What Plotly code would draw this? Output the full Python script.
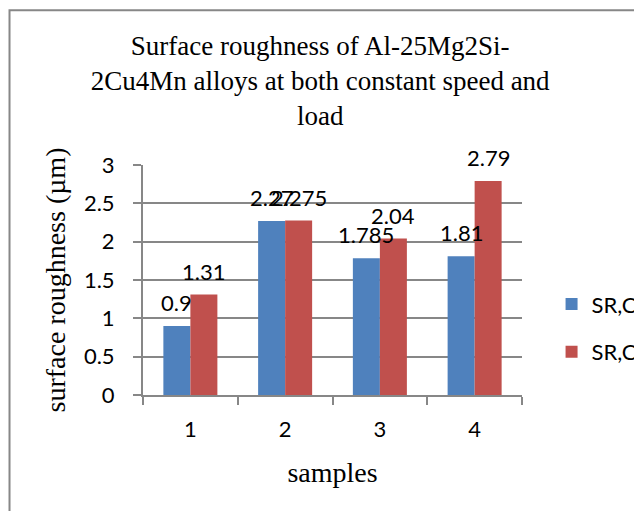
import plotly.graph_objects as go

samples = ["1", "2", "3", "4"]
series_names = ["SR,Constant speed", "SR,Constant load"]
sr_speed = [0.9, 2.27, 1.785, 1.81]
sr_load = [1.31, 2.275, 2.04, 2.79]
colors = ["#4F81BD", "#C0504D"]
y_ticks = [0, 0.5, 1, 1.5, 2, 2.5, 3]
y_tick_text = ["0", "0.5", "1", "1.5", "2", "2.5", "3"]

title_text = "Surface roughness of Al-25Mg2Si-<br>2Cu4Mn alloys at both constant speed and<br>load"
x_title = "samples"
y_title = "surface roughness (µm)"

LABEL_FONT = dict(family="Lato", size=22, color="#000000")
SERIF = "Liberation Serif"
GREY = "#878787"

fig = go.Figure()
for i, (name, vals) in enumerate(zip(series_names, [sr_speed, sr_load])):
    fig.add_trace(go.Bar(
        x=samples, y=vals, name=name,
        marker=dict(color=colors[i], line=dict(width=0)),
        legendgroup=f"g{i}",
    ))

# data labels (x given as category index on the category axis)
for i, vals in enumerate([sr_speed, sr_load]):
    shift = -13.5 if i == 0 else 13.5
    for idx, v in enumerate(vals):
        fig.add_annotation(
            x=idx, y=v, text=f"{v:g}", showarrow=False,
            xshift=shift, yshift=8, yanchor="bottom", xanchor="center",
            font=LABEL_FONT,
        )

fig.update_layout(
    width=634, height=511,
    paper_bgcolor="white", plot_bgcolor="white",
    margin=dict(l=143, r=112, t=165, b=116, autoexpand=False),
    barmode="group", bargap=0.43, bargroupgap=0,
    title=dict(text=title_text, x=0.505, xref="container", xanchor="center",
               y=0.892, yref="container", yanchor="top",
               font=dict(family=SERIF, size=27, color="#000000")),
    showlegend=True,
    legend=dict(x=1.078, xanchor="left", y=0.29, yanchor="middle",
                font=dict(family="Lato", size=22, color="#000000"),
                tracegroupgap=16, traceorder="grouped",
                bgcolor="rgba(0,0,0,0)"),
    shapes=[dict(type="rect", xref="paper", yref="paper",
                 x0=-0.3522, x1=2.0, y0=-0.6, y1=1.6725,
                 line=dict(color=GREY, width=2), fillcolor="rgba(0,0,0,0)",
                 layer="below")],
)

fig.update_xaxes(
    type="category", tickson="boundaries", range=[-0.5, 3.5],
    showline=True, linecolor=GREY, linewidth=2,
    ticks="outside", ticklen=8, tickcolor=GREY, tickwidth=2,
    showgrid=False, ticklabelstandoff=14,
    tickfont=dict(family="Lato", size=22, color="#000000"),
    title=dict(text=x_title, font=dict(family=SERIF, size=28, color="#000000"), standoff=21),
)
fig.update_yaxes(
    range=[0, 3], tickvals=y_ticks, ticktext=y_tick_text,
    showline=True, linecolor=GREY, linewidth=2,
    ticks="outside", ticklen=8, tickcolor=GREY, tickwidth=2,
    showgrid=True, gridcolor=GREY, gridwidth=2, zeroline=False,
    ticklabelstandoff=14,
    tickfont=dict(family="Lato", size=22, color="#000000"),
    title=dict(text=y_title, font=dict(family=SERIF, size=28, color="#000000"), standoff=10),
)

fig.write_html("out.html")
